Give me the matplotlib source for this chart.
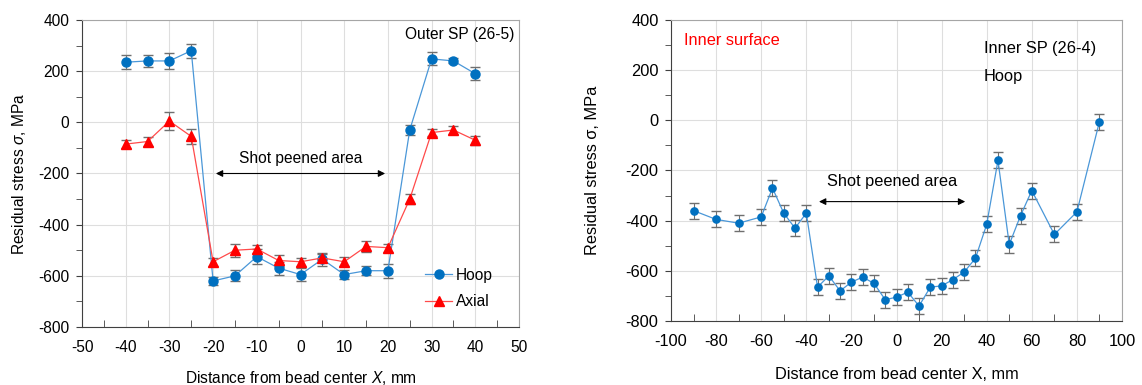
import numpy as np
import matplotlib.pyplot as plt
from matplotlib.ticker import MultipleLocator

plt.rcParams['font.family'] = ['Liberation Sans', 'DejaVu Sans']
plt.rcParams['mathtext.fontset'] = 'custom'
plt.rcParams['mathtext.it'] = 'Liberation Sans:italic'
plt.rcParams['mathtext.rm'] = 'Liberation Sans'
plt.rcParams['axes.unicode_minus'] = False

# outer SP (26-5)
x_outer = [-40, -35, -30, -25, -20, -15, -10, -5, 0, 5, 10, 15, 20, 25, 30, 35, 40]
hoop_outer = [235, 240, 240, 280, -620, -600, -525, -570, -595, -535, -595, -580, -580,
              -30, 248, 240, 190]
hoop_outer_err = [28, 25, 30, 28, 15, 22, 28, 25, 25, 25, 18, 18, 28, 18, 25, 10, 25]
axial_outer = [-85, -75, 5, -55, -545, -500, -495, -540, -545, -530, -545, -485, -490,
               -300, -40, -30, -70]
axial_outer_err = [15, 18, 35, 28, 15, 25, 15, 22, 15, 15, 18, 20, 15, 18, 15, 15, 18]

# inner SP (26-4), hoop
x_inner = [-90, -80, -70, -60, -55, -50, -45, -40, -35, -30, -25, -20, -15, -10, -5, 0,
           5, 10, 15, 20, 25, 30, 35, 40, 45, 50, 55, 60, 70, 80, 90]
hoop_inner = [-360, -395, -410, -385, -270, -370, -430, -370, -665, -620, -680, -645,
              -625, -650, -715, -705, -685, -740, -665, -660, -635, -605, -550, -415,
              -160, -495, -380, -280, -455, -365, -5]
hoop_inner_err = [32] * len(x_inner)

blue = '#0070C0'
blue_line = '#4a97d8'
red = '#FF0000'
red_line = '#ff4a4a'
errc = '#6f6f6f'

W, H = 1142, 385
fig = plt.figure(figsize=(W / 100, H / 100), dpi=100)
ax1 = fig.add_axes([82 / W, 1 - 327 / H, 437 / W, 307 / H])
ax2 = fig.add_axes([671 / W, 1 - 321 / H, 451 / W, 301 / H])


def style(ax, xmin, xmax, xmaj, xtick, fs):
    ax.set_ylim(-800, 400)
    ax.set_xlim(xmin, xmax)
    ax.xaxis.set_major_locator(MultipleLocator(xmaj))
    ax.yaxis.set_major_locator(MultipleLocator(200))
    ax.yaxis.set_minor_locator(MultipleLocator(100))
    ax.grid(True, which='major', color='#dedede', lw=0.8)
    ax.set_axisbelow(True)
    ax.tick_params(axis='y', which='both', direction='out', length=4, color='#404040',
                   labelsize=fs, pad=5)
    ax.tick_params(axis='x', which='major', direction='in', length=0, labelsize=fs,
                   pad=9)
    ax.set_xticks(np.arange(xmin, xmax + 0.1, xtick), minor=True)
    ax.tick_params(axis='x', which='minor', direction='in', length=5, color='#404040')
    for s in ['top', 'right']:
        ax.spines[s].set_color('#a6a6a6')
    for s in ['left', 'bottom']:
        ax.spines[s].set_color('#404040')


# left panel
fs1 = 11.2
style(ax1, -50, 50, 10, 5, fs1)
ax1.errorbar(x_outer, hoop_outer, yerr=hoop_outer_err, color=blue_line, lw=0.9,
             marker='o', ms=6.5, mfc=blue, mec=blue, ecolor=errc, elinewidth=0.8,
             capsize=3.5, label='Hoop')
ax1.errorbar(x_outer, axial_outer, yerr=axial_outer_err, color=red_line, lw=0.9,
             marker='^', ms=6.5, mfc=red, mec=red, ecolor=errc, elinewidth=0.8,
             capsize=3.5, label='Axial')
ax1.set_ylabel(r'Residual stress $\mathit{\sigma}$, MPa', fontsize=fs1)
ax1.set_xlabel(r'Distance from bead center $\mathit{X}$, mm', fontsize=fs1)
ax1.yaxis.set_label_coords((28 - 82) / 437, 0.5)
ax1.xaxis.set_label_coords(0.5, (327 - 369) / 307)
ax1.text(49, 345, 'Outer SP (26-5)', ha='right', va='center', fontsize=fs1)
ax1.annotate('', xy=(-20, -200), xytext=(20, -200),
             arrowprops=dict(arrowstyle='<|-|>', color='black', lw=0.8, mutation_scale=10))
ax1.text(0, -140, 'Shot peened area', ha='center', va='center', fontsize=fs1)
handles, labels = ax1.get_legend_handles_labels()
ax1.legend([h[0] for h in handles], labels, loc='center left', frameon=False,
           fontsize=fs1, bbox_to_anchor=((425 - 82) / 437, (327 - 288.5) / 307),
           borderpad=0, borderaxespad=0, handlelength=1.75, labelspacing=0.75,
           handletextpad=0.25)

# right panel
fs2 = 11.8
style(ax2, -100, 100, 20, 10, fs2)
ax2.errorbar(x_inner, hoop_inner, yerr=hoop_inner_err, color=blue_line, lw=0.9,
             marker='o', ms=5.2, mfc=blue, mec=blue, ecolor=errc, elinewidth=0.8,
             capsize=3.5)
ax2.set_ylabel('Residual stress σ, MPa', fontsize=fs2)
ax2.set_xlabel('Distance from bead center X, mm', fontsize=fs2)
ax2.yaxis.set_label_coords((600 - 671) / 451, 0.5)
ax2.xaxis.set_label_coords(0.5, (321 - 367) / 301)
ax2.text(-94.2, 320, 'Inner surface', color=red, ha='left', va='center', fontsize=fs2)
ax2.text(38.7, 288, 'Inner SP (26-4)', ha='left', va='center', fontsize=fs2)
ax2.text(38.7, 173, 'Hoop', ha='left', va='center', fontsize=fs2)
ax2.annotate('', xy=(-35.6, -324), xytext=(31.7, -324),
             arrowprops=dict(arrowstyle='<|-|>', color='black', lw=0.8, mutation_scale=10))
ax2.text(-2, -245, 'Shot peened area', ha='center', va='center', fontsize=fs2)

fig.savefig('out.png', dpi=100)
